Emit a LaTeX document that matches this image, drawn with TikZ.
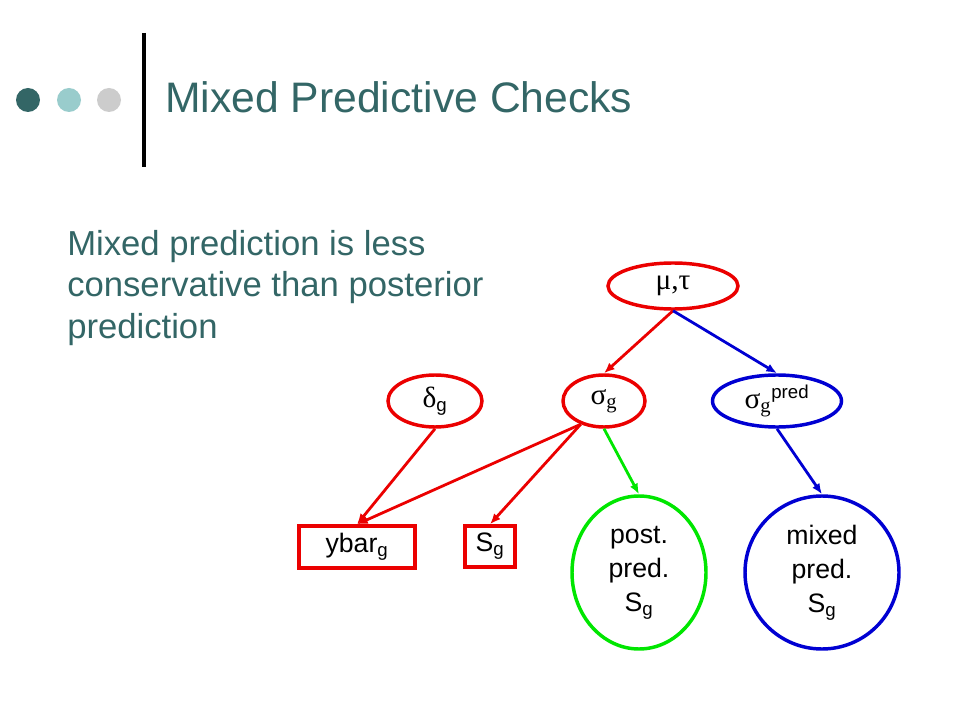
\documentclass[tikz,border=0pt]{standalone}
\usepackage{fontspec}
\setmainfont{Liberation Sans}
\newfontfamily\grk{Liberation Serif}
\usepackage{xcolor}
\usetikzlibrary{arrows.meta,shapes.geometric}
\definecolor{slidet}{RGB}{51,102,102}
\definecolor{dotlight}{RGB}{153,204,204}
\definecolor{dotgrey}{RGB}{204,204,204}
\definecolor{pgreen}{RGB}{0,230,0}
\definecolor{pblue}{RGB}{0,0,210}
\definecolor{pred}{RGB}{235,0,0}
\tikzset{>={Latex[length=8pt,width=6.5pt]}}
\tikzset{
  param/.style={ellipse,draw,line width=2.6pt,inner sep=0pt,
    font=\fontsize{20}{25.5}\selectfont},
  datum/.style={rectangle,draw=pred,line width=2.6pt,inner sep=0pt,
    font=\fontsize{20}{25.5}\selectfont},
  link/.style={->,line width=2.1pt}
}
\newcommand{\gk}[1]{{\grk\fontsize{22}{26}\selectfont #1}}

\begin{document}
\begin{tikzpicture}[x=0.75pt,y=-0.75pt]
  \useasboundingbox (0,0) rectangle (960,720);
  % Header
  \fill[slidet] (28,100) circle (9pt);
  \fill[dotlight] (69,100) circle (9pt);
  \fill[dotgrey] (109,100) circle (9pt);
  \draw[line width=3pt] (144,33) -- (144,167);
  \node[anchor=base west,inner sep=0pt,text=slidet,font=\fontsize{32}{38}\selectfont] (title) at (165,113) {Mixed Predictive Checks};
  \node[anchor=base west,inner sep=0pt,text=slidet,align=left,font=\fontsize{26}{31}\selectfont] (claim) at (67,338) {Mixed prediction is less\\conservative than posterior\\prediction};

  % Nodes
  \node[param,draw=pred,minimum width=97.5pt,minimum height=34.5pt] (mutau) at (673,286) {\gk{μ,τ}};
  \node[param,draw=pred,minimum width=70.5pt,minimum height=39pt] (delta) at (435,401) {\gk{δ}\textsubscript{g}};
  \node[param,draw=pred,minimum width=61.5pt,minimum height=39pt] (sigma) at (604,401) {\gk{σ\textsubscript{g}}};
  \node[param,draw=pblue,minimum width=96.75pt,minimum height=39pt] (spred) at (777,401) {\gk{σ\textsubscript{g}}\textsuperscript{pred}};
  \node[datum,minimum width=87pt,minimum height=31.5pt] (ybar) at (357,547) {ybar\textsubscript{g}};
  \node[datum,minimum width=37.5pt,minimum height=30.75pt] (sg) at (490,546.5) {S\textsubscript{g}};
  \node[param,draw=pgreen,align=center,minimum width=100.5pt,minimum height=114.75pt] (post) at (639,572.5) {post.\\pred.\\S\textsubscript{g}};
  \node[param,draw=pblue,align=center,minimum width=115.5pt,minimum height=114.75pt] (mixed) at (822,572.5) {mixed\\pred.\\S\textsubscript{g}};

  % Lines
  \draw[link,pred] (mutau.south) -- (sigma.north);
  \draw[link,pblue] (mutau.south) -- (spred.north);
  \draw[link,pred] (delta.south) -- (ybar.north);
  \draw[link,pred] (sigma.225) -- (ybar.north);
  \draw[link,pred] (sigma.225) -- (sg.north);
  \draw[link,pgreen] (sigma.south) -- (post.north);
  \draw[link,pblue] (spred.south) -- (mixed.north);
\end{tikzpicture}
\end{document}
